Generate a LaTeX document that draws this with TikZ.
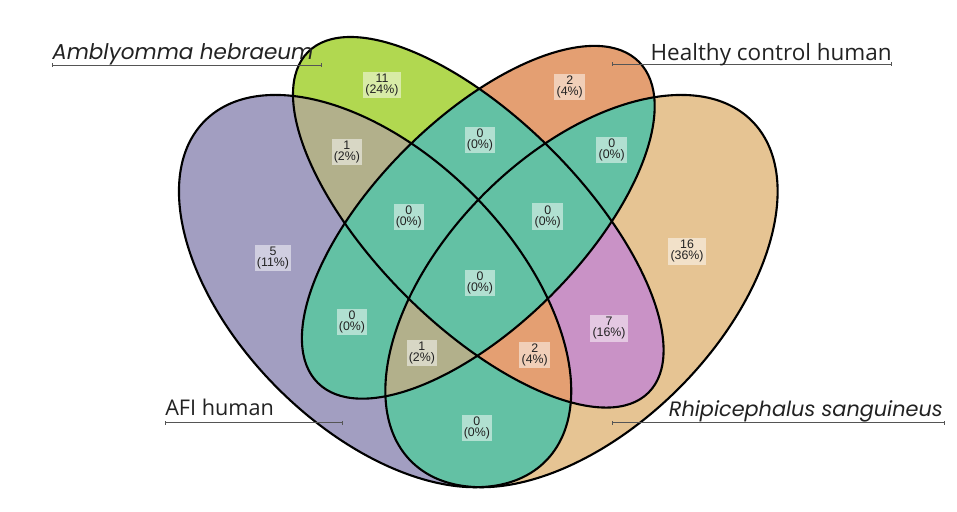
\documentclass[tikz,border=0pt]{standalone}
\usepackage{fontspec}
\usepackage{tikz}
\usetikzlibrary{arrows.meta}
\newfontfamily\labelfont{Open Sans}
\newfontfamily\speciesfont{Poppins}
\newfontfamily\countfont{Liberation Sans}
\definecolor{tealz}{HTML}{63C1A4}
\definecolor{olive}{HTML}{B2B08B}
\definecolor{coral}{HTML}{E49F72}
\definecolor{lilac}{HTML}{A29EC1}
\definecolor{orchid}{HTML}{C992C6}
\definecolor{lime}{HTML}{B1D850}
\definecolor{sand}{HTML}{E6C493}
\definecolor{ink}{HTML}{222222}
\definecolor{rule}{HTML}{555555}
\newcommand{\ellAfi}{(0.35,0.47) ellipse [x radius=6.02cm, y radius=3.44cm, rotate=135]}
\newcommand{\ellAmb}{(0.50,0.57) ellipse [x radius=6.02cm, y radius=2.58cm, rotate=135]}
\newcommand{\ellHealthy}{(0.50,0.57) ellipse [x radius=5.676cm, y radius=2.58cm, rotate=45]}
\newcommand{\ellRhipi}{(0.65,0.47) ellipse [x radius=6.02cm, y radius=3.44cm, rotate=45]}
\tikzset{
  outline/.style={draw=black, line width=1.5pt},
  count/.style={fill=white, fill opacity=0.5, text opacity=1, text=ink,
                font=\countfont\fontsize{8.8}{7.8}\selectfont, align=center, inner sep=1.6pt},
  leader/.style={draw=rule, line width=0.7pt, {Bar[width=2.5pt]}-{Bar[width=2.5pt]}},
  setname/.style={font=\labelfont\fontsize{16}{18}\selectfont, text=ink, inner sep=0pt},
  species/.style={font=\speciesfont\itshape\fontsize{15.3}{18}\selectfont, text=ink, inner sep=0pt}
}
\begin{document}
\begin{tikzpicture}[x=17.2cm,y=17.2cm]
  \useasboundingbox (-0.1952,0.1503) rectangle (1.1958,0.8931);
  % one set
  \fill[lilac] \ellAfi;
  \fill[lime] \ellAmb;
  \fill[coral] \ellHealthy;
  \fill[sand] \ellRhipi;
  % two sets
  \begin{scope}\clip \ellAfi; \fill[olive] \ellAmb; \end{scope}
  \begin{scope}\clip \ellAfi; \fill[tealz] \ellHealthy; \end{scope}
  \begin{scope}\clip \ellAfi; \fill[tealz] \ellRhipi; \end{scope}
  \begin{scope}\clip \ellAmb; \fill[tealz] \ellHealthy; \end{scope}
  \begin{scope}\clip \ellAmb; \fill[orchid] \ellRhipi; \end{scope}
  \begin{scope}\clip \ellHealthy; \fill[tealz] \ellRhipi; \end{scope}
  % three sets
  \begin{scope}\clip \ellAfi; \clip \ellAmb; \fill[tealz] \ellHealthy; \end{scope}
  \begin{scope}\clip \ellAfi; \clip \ellAmb; \fill[coral] \ellRhipi; \end{scope}
  \begin{scope}\clip \ellAfi; \clip \ellHealthy; \fill[olive] \ellRhipi; \end{scope}
  \begin{scope}\clip \ellAmb; \clip \ellHealthy; \fill[tealz] \ellRhipi; \end{scope}
  % all four
  \begin{scope}\clip \ellAfi; \clip \ellAmb; \clip \ellHealthy; \fill[tealz] \ellRhipi; \end{scope}
  % outlines
  \draw[outline] \ellAfi;
  \draw[outline] \ellAmb;
  \draw[outline] \ellHealthy;
  \draw[outline] \ellRhipi;

  % counts
  \node[count] (nB) at (0.360,0.7695) {11\\(24\%)};
  \node[count] (nC) at (0.633,0.7666) {2\\(4\%)};
  \node[count] (nA) at (0.2016,0.518) {5\\(11\%)};
  \node[count] (nD) at (0.8034,0.528) {16\\(36\%)};
  \node[count] (nAB) at (0.309,0.672) {1\\(2\%)};
  \node[count] (nBC) at (0.5025,0.6896) {0\\(0\%)};
  \node[count] (nCD) at (0.694,0.675) {0\\(0\%)};
  \node[count] (nABC) at (0.399,0.5777) {0\\(0\%)};
  \node[count] (nBCD) at (0.601,0.578) {0\\(0\%)};
  \node[count] (nABCD) at (0.5025,0.4817) {0\\(0\%)};
  \node[count] (nAC) at (0.3165,0.425) {0\\(0\%)};
  \node[count] (nACD) at (0.418,0.380) {1\\(2\%)};
  \node[count] (nABD) at (0.582,0.377) {2\\(4\%)};
  \node[count] (nBD) at (0.690,0.416) {7\\(16\%)};
  \node[count] (nAD) at (0.498,0.271) {0\\(0\%)};

  % set names
  \coordinate (ambL) at (-0.1196,0.7986);
  \coordinate (ambR) at (0.2728,0.7986);
  \coordinate (hcL) at (0.6944,0.800);
  \coordinate (hcR) at (1.1013,0.800);
  \coordinate (afiL) at (0.0446,0.2783);
  \coordinate (afiR) at (0.3034,0.2783);
  \coordinate (rsL) at (0.6944,0.2783);
  \coordinate (rsR) at (1.1784,0.2783);
  \draw[leader] (ambL) -- (ambR);
  \draw[leader] (hcL) -- (hcR);
  \draw[leader] (afiL) -- (afiR);
  \draw[leader] (rsL) -- (rsR);
  \node[species, anchor=base west, yshift=0.15cm] (ambName) at (ambL) {Amblyomma hebraeum};
  \node[setname, anchor=base east, yshift=0.09cm] (hcName) at (hcR) {Healthy control human};
  \node[setname, anchor=base west, yshift=0.175cm, font=\labelfont\fontsize{15.4}{18}\selectfont] (afiName) at (afiL) {AFI human};
  \node[species, anchor=base east, yshift=0.16cm, xshift=-0.05cm, font=\speciesfont\itshape\fontsize{14.8}{18}\selectfont] (rsName) at (rsR) {Rhipicephalus sanguineus};
\end{tikzpicture}
\end{document}
